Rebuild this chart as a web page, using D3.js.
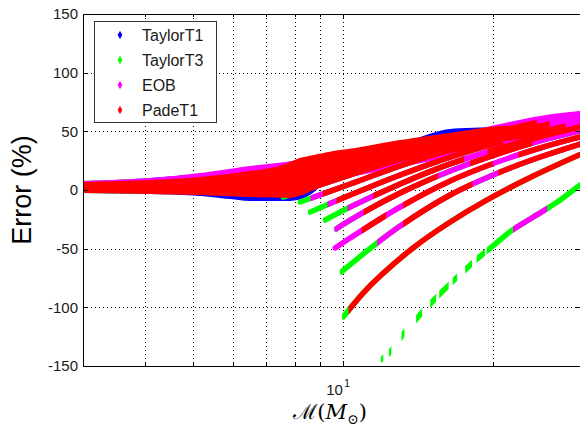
<!DOCTYPE html>
<html>
<head>
<meta charset="utf-8">
<script src="https://cdn.jsdelivr.net/npm/d3@7"></script>
<style>
  html, body { margin: 0; padding: 0; background: #fff; }
  svg { display: block; font-family: "Liberation Sans", Arial, Helvetica, sans-serif; }
</style>
</head>
<body>
<svg id="chart" width="580" height="427"></svg>
<script>
// Waveform families and their marker colours (drawn in this order)
const seriesNames = ["TaylorT1", "TaylorT3", "EOB", "PadeT1"];
const seriesColors = ["#0000ff", "#00ff00", "#ff00ff", "#ff0000"];

// Axis ticks
const yTicks = [-150, -100, -50, 0, 50, 100, 150];
const xGridTicks = [4, 5, 6, 7, 8, 9, 10, 20];
const xMajorTicks = [10];

// Low-mass scatter envelopes: [chirp mass, lower error %, upper error %]
const bandT1 = [[3.0, -0.9, 5.5], [4.09, -1.7, 8.5], [5.16, -3.4, 11.9], [5.93, -6.0, 14.5], [6.50, -7.7, 17.0], [7.30, -7.7, 20.5],
  [7.83, -7.7, 22.5], [8.30, -5.5, 24.0], [8.59, -2.0, 25.0], [9.42, 12.0, 30.0], [10.33, 16.0, 31.0], [13.02, 27.0, 38.0],
  [16.41, 35.0, 50.3], [18.86, 40.0, 51.5], [20.69, 44.0, 52.0]];
const bandT3 = [[3.0, -0.9, 6.0], [4.09, -1.2, 8.0], [5.16, -1.7, 11.5], [6.50, -2.5, 17.0], [7.47, -3.0, 19.5], [8.2, 0.0, 21.3]];
const bandEOB = [[3.0, 0.0, 6.0], [4.09, 0.0, 8.5], [5.16, 0.0, 12.8], [6.50, 1.7, 18.8], [8.20, 4.3, 23.9], [10.33, 12.8, 32.4],
  [13.02, 21.3, 38.4], [16.41, 29.8, 44.3], [20.69, 40.0, 54.5], [24.89, 47.0, 61.4], [29.95, 54.0, 65.6]];
const bandPade = [[3.0, -0.9, 5.1], [4.09, -1.7, 6.8], [5.16, -2.6, 9.4], [6.50, -4.3, 14.5], [7.47, -4.8, 18.8], [7.83, -5.1, 22.0],
  [8.20, -3.0, 25.6], [8.59, 0.5, 27.5], [9.42, 11.1, 31.0], [10.33, 14.5, 33.5], [13.02, 25.6, 40.9], [16.80, 34.1, 47.7],
  [20.69, 42.6, 52.8], [23.76, 46.0, 53.7], [25.47, 47.0, 51.5]];

// Tracks of fixed mass ratio: [chirp mass, error %]
const trackA = [[11.96, -144.3], [12.43, -138.1], [13.18, -123.3], [14.15, -108.2], [15.17, -94.4], [16.80, -75.9],
  [19.00, -55.3], [19.93, -48.3], [21.66, -35.5], [23.76, -24.7], [26.07, -14.2], [27.31, -8.5], [29.95, 4.3]];
const trackB = [[10.0, -108.2], [10.97, -87.8], [11.87, -73.3], [13.82, -49.4], [16.18, -29.0], [19.47, -8.5], [24.10, 11.9], [29.95, 30.3]];
const trackC = [[9.91, -69.9], [11.70, -45.2], [13.02, -30.7], [16.41, -4.3], [20.69, 15.3], [24.89, 28.1], [29.95, 39.2]];
const trackD = [[9.64, -49.4], [10.33, -40.9], [13.02, -14.5], [16.41, 7.7], [20.69, 24.7], [24.89, 35.8], [29.95, 45.2]];
const trackE = [[9.68, -33.2], [10.33, -25.6], [13.02, -2.6], [16.41, 16.2], [20.69, 31.5], [24.89, 41.8], [29.95, 50.3]];
const trackF = [[9.20, -25.6], [10.33, -14.5], [13.02, 5.1], [16.41, 22.2], [20.69, 35.8], [24.89, 45.2], [29.95, 53.7]];
const trackG = [[8.59, -18.8], [10.33, -4.3], [13.02, 12.8], [16.41, 28.1], [20.69, 40.9], [24.89, 49.4], [29.95, 57.1]];
const trackH = [[8.20, -10.2], [10.33, 5.1], [13.02, 20.5], [16.41, 34.1], [20.69, 46.0], [24.89, 54.5], [29.95, 61.4]];
const trackI = [[7.58, -6.0], [10.33, 12.8], [13.02, 26.4], [16.41, 39.2], [20.69, 50.3], [24.89, 58.0], [29.95, 64.8]];

// Where each family has points along a track: [track, series index, mass from, mass to]
const coverage = [
  ["A", 1, 11.90, 12.04], ["A", 1, 12.36, 12.50], ["A", 1, 13.10, 13.28], ["A", 1, 14.02, 14.41], ["A", 1, 14.96, 15.38],
  ["A", 1, 15.60, 16.30], ["A", 1, 16.61, 16.95], ["A", 1, 17.59, 18.16], ["A", 1, 18.55, 19.29], ["A", 1, 19.43, 31],
  ["A", 2, 21.96, 25.71],
  ["B", 1, 9.95, 31], ["B", 3, 10.25, 31],
  ["C", 1, 9.85, 31], ["C", 2, 11.7, 31], ["C", 3, 13.2, 18.2], ["C", 3, 20.5, 31],
  ["D", 2, 9.5, 31], ["D", 3, 10.9, 12.2], ["D", 3, 13.2, 20.0], ["D", 3, 22.5, 31],
  ["E", 1, 9.6, 31], ["E", 2, 9.6, 31], ["E", 3, 11.0, 15.5], ["E", 3, 18.0, 24.0],
  ["F", 1, 9.1, 31], ["F", 2, 10.2, 31], ["F", 3, 11.5, 17.5], ["F", 3, 19.5, 31],
  ["G", 1, 8.5, 31], ["G", 2, 9.3, 31], ["G", 3, 9.7, 21.0], ["G", 3, 23.0, 28.0],
  ["H", 1, 8.1, 31], ["H", 2, 8.6, 31], ["H", 3, 9.1, 26.0],
  ["I", 1, 7.5, 31], ["I", 2, 7.95, 31], ["I", 3, 7.95, 24.5]
];
const tracks = { A: trackA, B: trackB, C: trackC, D: trackD, E: trackE, F: trackF, G: trackG, H: trackH, I: trackI };
const bands = [bandT1, bandT3, bandEOB, bandPade];

const svg = d3.select("#chart");
const plot = { left: 83, right: 580.5, top: 14, bottom: 366 };

const x = d3.scaleLog().domain([3, 30]).range([plot.left, plot.right]);
const y = d3.scaleLinear().domain([-150, 150]).range([plot.bottom, plot.top]);

const defs = svg.append("defs");
defs.append("clipPath").attr("id", "plotClip")
  .append("rect")
  .attr("x", plot.left).attr("y", plot.top)
  .attr("width", plot.right - plot.left).attr("height", plot.bottom - plot.top);

// Dotted grid
const grid = svg.append("g").attr("stroke", "#000").attr("stroke-width", 1).attr("stroke-dasharray", "1,3");
grid.selectAll("line.gx").data(xGridTicks).join("line")
  .attr("x1", d => Math.round(x(d)) + 0.5).attr("x2", d => Math.round(x(d)) + 0.5)
  .attr("y1", plot.top).attr("y2", plot.bottom);
grid.selectAll("line.gy").data(yTicks.slice(1, -1)).join("line")
  .attr("y1", d => Math.round(y(d)) + 0.5).attr("y2", d => Math.round(y(d)) + 0.5)
  .attr("x1", plot.left).attr("x2", plot.right);

// Data layer
const data = svg.append("g").attr("clip-path", "url(#plotClip)");
const area = d3.area().x(d => x(d[0])).y0(d => y(d[1])).y1(d => y(d[2])).curve(d3.curveMonotoneX);
const line = d3.line().x(d => x(d[0])).y(d => y(d[1])).curve(d3.curveCatmullRom);

seriesNames.forEach((name, si) => {
  const color = seriesColors[si];
  data.append("path")
    .datum(bands[si])
    .attr("d", area)
    .attr("fill", color)
    .attr("stroke", color)
    .attr("stroke-width", 4)
    .attr("stroke-linejoin", "round");

  const mine = coverage.filter(c => c[1] === si);
  const byTrack = d3.group(mine, c => c[0]);
  byTrack.forEach((ranges, key) => {
    const id = "cov-" + si + "-" + key;
    const cp = defs.append("clipPath").attr("id", id);
    ranges.forEach(r => {
      cp.append("rect")
        .attr("x", x(r[2])).attr("width", Math.max(1, x(r[3]) - x(r[2])))
        .attr("y", 0).attr("height", 427);
    });
    data.append("g").attr("clip-path", "url(#" + id + ")")
      .append("path")
      .datum(tracks[key])
      .attr("d", line)
      .attr("fill", "none")
      .attr("stroke", color)
      .attr("stroke-width", 5.5)
      .attr("stroke-linecap", "round");
  });
});

// Axes box and inward ticks
const axes = svg.append("g").attr("stroke", "#000").attr("fill", "none");
axes.append("line").attr("x1", plot.left + 0.5).attr("x2", plot.left + 0.5).attr("y1", plot.top).attr("y2", plot.bottom + 0.5);
axes.append("line").attr("x1", plot.left).attr("x2", plot.right).attr("y1", plot.bottom + 0.5).attr("y2", plot.bottom + 0.5);
axes.append("line").attr("x1", plot.left).attr("x2", plot.right).attr("y1", plot.top + 0.5).attr("y2", plot.top + 0.5);
axes.append("line").attr("x1", plot.right).attr("x2", plot.right).attr("y1", plot.top).attr("y2", plot.bottom);
yTicks.forEach(t => {
  const yy = Math.round(y(t)) + 0.5;
  axes.append("line").attr("x1", plot.left).attr("x2", plot.left + 5).attr("y1", yy).attr("y2", yy);
  axes.append("line").attr("x1", plot.right - 5).attr("x2", plot.right).attr("y1", yy).attr("y2", yy);
});
xGridTicks.forEach(t => {
  const xx = Math.round(x(t)) + 0.5;
  const len = xMajorTicks.includes(t) ? 5 : 3;
  axes.append("line").attr("x1", xx).attr("x2", xx).attr("y1", plot.bottom).attr("y2", plot.bottom - len);
  axes.append("line").attr("x1", xx).attr("x2", xx).attr("y1", plot.top).attr("y2", plot.top + len);
});

// Tick labels
const labels = svg.append("g").attr("fill", "#1a1a1a").style("font-size", "15px");
yTicks.forEach(t => {
  labels.append("text")
    .attr("x", plot.left - 5).attr("y", y(t))
    .attr("dy", "0.35em").attr("text-anchor", "end")
    .text(t < 0 ? "-" + Math.abs(t) : t);
});
xMajorTicks.forEach(t => {
  const tl = labels.append("text").attr("x", x(t) - 5).attr("y", 395).attr("text-anchor", "middle");
  tl.append("tspan").text("10");
  tl.append("tspan").attr("dy", -8).attr("dx", 1).style("font-size", "11px").text(Math.round(Math.log10(t)));
});

// Axis titles
svg.append("text")
  .attr("transform", "translate(31,190) rotate(-90)")
  .attr("text-anchor", "middle")
  .style("font-size", "27px")
  .attr("fill", "#000")
  .text("Error (%)");

const xt = svg.append("text")
  .attr("x", 330).attr("y", 419)
  .attr("text-anchor", "middle")
  .style("font-family", "'DejaVu Serif', 'Liberation Serif', serif")
  .style("font-size", "21px")
  .attr("fill", "#000");
xt.append("tspan").text("ℳ");
xt.append("tspan").text("(");
xt.append("tspan").style("font-style", "italic").text("M");
xt.append("tspan").attr("dy", 5).style("font-size", "14px").text("⊙");
xt.append("tspan").attr("dy", -5).text(")");

// Legend
const lg = svg.append("g");
lg.append("rect").attr("x", 94.5).attr("y", 21.5).attr("width", 122).attr("height", 101)
  .attr("fill", "#fff").attr("stroke", "#333");
seriesNames.forEach((name, i) => {
  const yy = 35 + i * 25;
  lg.append("path")
    .attr("d", d3.symbol().type(d3.symbolDiamond).size(20)())
    .attr("transform", "translate(120," + yy + ")")
    .attr("fill", seriesColors[i]);
  lg.append("text").attr("x", 142).attr("y", yy).attr("dy", "0.35em")
    .style("font-size", "16px").attr("fill", "#1a1a1a").text(name);
});
</script>
</body>
</html>
